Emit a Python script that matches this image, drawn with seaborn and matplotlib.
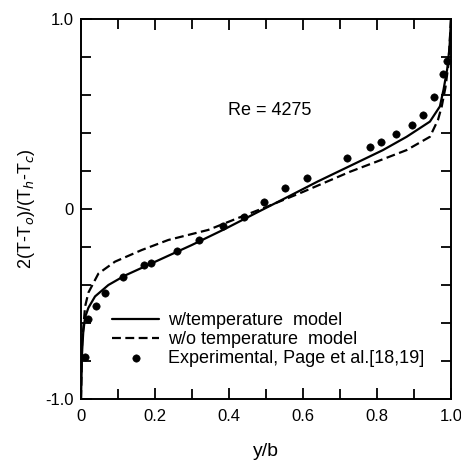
import matplotlib
matplotlib.use("Agg")
import matplotlib.pyplot as plt
import seaborn as sns
import numpy as np
from matplotlib.ticker import MultipleLocator

# ---- data ----
x_solid = [0.0, 0.003, 0.006, 0.011, 0.02, 0.038, 0.074, 0.119, 0.209, 0.299, 0.389, 0.479,
           0.56, 0.64, 0.72, 0.816, 0.88, 0.943, 0.97, 0.98, 0.99, 0.996, 1.0]
y_solid = [-1.0, -0.75, -0.65, -0.57, -0.52, -0.46, -0.40, -0.35, -0.27, -0.19, -0.105, -0.015,
           0.065, 0.145, 0.22, 0.31, 0.38, 0.46, 0.54, 0.63, 0.74, 0.85, 1.0]

x_dash = [0.0, 0.003, 0.011, 0.02, 0.047, 0.092, 0.164, 0.236, 0.344, 0.434, 0.5, 0.6, 0.727,
          0.8, 0.88, 0.943, 0.965, 0.975, 0.985, 0.993, 1.0]
y_dash = [-1.0, -0.7, -0.514, -0.44, -0.34, -0.277, -0.216, -0.163, -0.11, -0.04, 0.01, 0.09, 0.196,
          0.25, 0.31, 0.38, 0.47, 0.54, 0.64, 0.76, 1.0]

x_exp = [0.011, 0.02, 0.04, 0.066, 0.114, 0.17, 0.19, 0.259, 0.32, 0.384, 0.44, 0.495, 0.551,
         0.61, 0.718, 0.781, 0.812, 0.851, 0.894, 0.924, 0.953, 0.978, 0.988]
y_exp = [-0.78, -0.58, -0.51, -0.44, -0.36, -0.295, -0.285, -0.22, -0.165, -0.09, -0.04, 0.035,
         0.109, 0.165, 0.27, 0.328, 0.35, 0.395, 0.44, 0.495, 0.59, 0.71, 0.78]

x_ticks = [0, 0.2, 0.4, 0.6, 0.8, 1.0]
x_ticklabels = ["0", "0.2", "0.4", "0.6", "0.8", "1.0"]
y_ticks = [-1.0, 0, 1.0]
y_ticklabels = ["-1.0", "0", "1.0"]

labels = ["w/temperature  model", "w/o temperature  model", "Experimental, Page et al.[18,19]"]

sns.set_theme(style="ticks")
plt.rcParams["font.family"] = ["Liberation Sans", "DejaVu Sans"]

fig = plt.figure(figsize=(4.61, 4.66), dpi=100)
ax = fig.add_axes([81/461, 1-399/466, 370/461, 380/466])

sns.lineplot(x=x_solid, y=y_solid, ax=ax, color="black", lw=1.6, label=labels[0], sort=False)
sns.lineplot(x=x_dash, y=y_dash, ax=ax, color="black", lw=1.6, label=labels[1], sort=False)
ax.lines[-1].set_dashes((4, 2))
sns.scatterplot(x=x_exp, y=y_exp, ax=ax, color="black", s=28, edgecolor="black",
                label=labels[2], zorder=5)

ax.set_xlim(0, 1)
ax.set_ylim(-1, 1)
ax.set_xticks(x_ticks)
ax.set_xticklabels(x_ticklabels)
ax.set_yticks(y_ticks)
ax.set_yticklabels(y_ticklabels)
ax.xaxis.set_minor_locator(MultipleLocator(0.1))
ax.yaxis.set_minor_locator(MultipleLocator(0.2))
ax.tick_params(axis="both", which="both", direction="in", top=True, right=True,
               color="black", width=1.3)
ax.tick_params(axis="both", which="major", length=8, labelsize=12, labelcolor="black")
ax.tick_params(axis="both", which="minor", length=7)
ax.tick_params(axis="x", which="major", pad=7)
ax.tick_params(axis="y", which="major", pad=5)
for s in ax.spines.values():
    s.set_color("black")
    s.set_linewidth(1.4)

ax.set_xlabel("y/b", fontsize=14, color="black", labelpad=14)
ax.set_ylabel(r"2(T-T$_o$)/(T$_h$-T$_c$)", fontsize=13, color="black", labelpad=6)

ax.text(0.51, 0.52, "Re = 4275", fontsize=13, color="black", ha="center", va="center")

leg = ax.legend(loc="lower left", bbox_to_anchor=(0.065, 0.065), frameon=False, fontsize=13,
                handlelength=2.6, handletextpad=0.5, labelspacing=0.1, borderaxespad=0)
for t in leg.get_texts():
    t.set_color("black")

fig.savefig("out.png", dpi=100)
